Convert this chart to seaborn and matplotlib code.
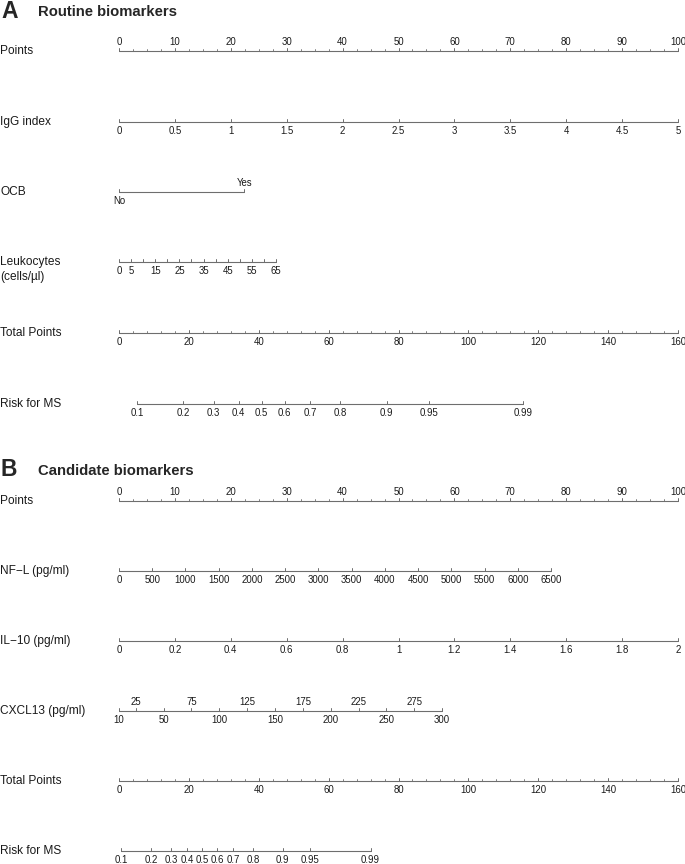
import numpy as np
import matplotlib
matplotlib.use("Agg")
import matplotlib.pyplot as plt
import seaborn as sns

sns.set_style("white")
plt.rcParams['font.family'] = ['Liberation Sans', 'DejaVu Sans']

# --- nomogram data ---
points_ticks = list(range(0, 101, 10))
points_minor = list(np.arange(0, 100.01, 2.5))

igg_ticks = [0, 0.5, 1, 1.5, 2, 2.5, 3, 3.5, 4, 4.5, 5]
igg_max_points = 100

ocb_levels = ['No', 'Yes']
ocb_points = [0, 22.4]

leuk_ticks = list(range(0, 66, 5))
leuk_labels = [0, 5, 15, 25, 35, 45, 55, 65]
leuk_max_points = 28.1

total_ticks = list(range(0, 161, 20))
total_minor = list(range(0, 161, 4))

risk_ticks = [0.1, 0.2, 0.3, 0.4, 0.5, 0.6, 0.7, 0.8, 0.9, 0.95, 0.99]
risk_a_mid = 40.85    # total points where risk = 0.5 (routine)
risk_a_slope = 16.26  # total points per logit unit
risk_b_mid = 23.75    # candidate model
risk_b_slope = 10.5

nfl_ticks = list(range(0, 6501, 500))
nfl_max_points = 77.3

il10_ticks = [0, 0.2, 0.4, 0.6, 0.8, 1, 1.2, 1.4, 1.6, 1.8, 2]
il10_max_points = 100

cxcl13_below = [10, 50, 100, 150, 200, 250, 300]
cxcl13_above = [25, 75, 125, 175, 225, 275]
cxcl13_range = [10, 300]
cxcl13_max_points = 57.8

# --- layout ---
X0, PX_PER_PT = 119, 5.59
LINE_C = '#6e6e6e'
TXT_C = '#1a1a1a'
TICK_FS = 6.9
LAB_FS = 8.6


def px(x):
    return (x - X0) / PX_PER_PT


def lin(vals, v0, v1, p1):
    return [(v - v0) / (v1 - v0) * p1 for v in vals]


def risk_pts(p, mid, slope):
    p = np.asarray(p)
    return (mid + slope * np.log(p / (1 - p))) * 100 / 160


def scale(ax, y, xs, labels, side='below', minor=None, ticklen=3):
    sns.lineplot(x=[min(xs), max(xs)], y=[y, y], ax=ax, color=LINE_C,
                 linewidth=0.8, estimator=None, sort=False)
    for xv in xs:
        ax.plot([xv, xv], [y, y - ticklen], color=LINE_C, lw=0.7)
    if minor is not None:
        for xv in minor:
            ax.plot([xv, xv], [y, y - 2], color=LINE_C, lw=0.6)
    if labels is not None:
        off = 9 if side == 'below' else -9
        for xv, lb in zip(xs, labels):
            ax.text(xv, y + off, lb, ha='center', va='center', fontsize=TICK_FS,
                    color=TXT_C)


def fmt(vals):
    return [f"{v:g}" for v in vals]


def row_label(ax, y, text):
    ax.text(px(0.5), y, text, ha='left', va='center', fontsize=LAB_FS, color=TXT_C)


fig = plt.figure(figsize=(6.85, 8.64), dpi=100)
ax = fig.add_axes([0, 0, 1, 1])
ax.set_xlim(px(0), px(685))
ax.set_ylim(864, 0)
ax.axis('off')

# ===== Panel A =====
ax.text(px(1), 12, 'A', fontsize=16.5, fontweight='bold', ha='left', va='center')
ax.text(px(38), 12, 'Routine biomarkers', fontsize=10.7, fontweight='bold',
        ha='left', va='center')
rows_a = [51, 122, 192, 262, 333, 404]

row_label(ax, rows_a[0], 'Points')
scale(ax, rows_a[0], points_ticks, fmt(points_ticks), side='above',
      minor=points_minor)

row_label(ax, rows_a[1], 'IgG index')
scale(ax, rows_a[1], lin(igg_ticks, 0, 5, igg_max_points), fmt(igg_ticks))

row_label(ax, rows_a[2], 'OCB')
scale(ax, rows_a[2], ocb_points, None)
ax.text(ocb_points[0], rows_a[2] + 9, ocb_levels[0], ha='center', va='center',
        fontsize=TICK_FS, color=TXT_C)
ax.text(ocb_points[1], rows_a[2] - 9, ocb_levels[1], ha='center', va='center',
        fontsize=TICK_FS, color=TXT_C)

row_label(ax, rows_a[3], 'Leukocytes')
ax.text(px(0.5), rows_a[3] + 15, '(cells/µl)', ha='left', va='center',
        fontsize=LAB_FS, color=TXT_C)
leuk_x = lin(leuk_ticks, 0, 65, leuk_max_points)
scale(ax, rows_a[3], leuk_x, None)
for xv, lb in zip(lin(leuk_labels, 0, 65, leuk_max_points), fmt(leuk_labels)):
    ax.text(xv, rows_a[3] + 9, lb, ha='center', va='center', fontsize=TICK_FS,
            color=TXT_C)

row_label(ax, rows_a[4], 'Total Points')
scale(ax, rows_a[4], [t * 100 / 160 for t in total_ticks], fmt(total_ticks),
      minor=[t * 100 / 160 for t in total_minor])

row_label(ax, rows_a[5], 'Risk for MS')
scale(ax, rows_a[5], list(risk_pts(risk_ticks, risk_a_mid, risk_a_slope)),
      fmt(risk_ticks))

# ===== Panel B =====
ax.text(px(1), 470, 'B', fontsize=16.5, fontweight='bold', ha='left', va='center')
ax.text(px(38), 471, 'Candidate biomarkers', fontsize=10.7, fontweight='bold',
        ha='left', va='center')
rows_b = [501, 571, 641, 711, 781, 851]

row_label(ax, rows_b[0], 'Points')
scale(ax, rows_b[0], points_ticks, fmt(points_ticks), side='above',
      minor=points_minor)

row_label(ax, rows_b[1], 'NF\u2212L (pg/ml)')
scale(ax, rows_b[1], lin(nfl_ticks, 0, 6500, nfl_max_points), fmt(nfl_ticks))

row_label(ax, rows_b[2], 'IL\u221210 (pg/ml)')
scale(ax, rows_b[2], lin(il10_ticks, 0, 2, il10_max_points), fmt(il10_ticks))

row_label(ax, rows_b[3], 'CXCL13 (pg/ml)')
c0, c1 = cxcl13_range
scale(ax, rows_b[3], lin(cxcl13_below, c0, c1, cxcl13_max_points),
      fmt(cxcl13_below))
for xv, lb in zip(lin(cxcl13_above, c0, c1, cxcl13_max_points), fmt(cxcl13_above)):
    ax.plot([xv, xv], [rows_b[3], rows_b[3] - 3], color=LINE_C, lw=0.7)
    ax.text(xv, rows_b[3] - 9, lb, ha='center', va='center', fontsize=TICK_FS,
            color=TXT_C)

row_label(ax, rows_b[4], 'Total Points')
scale(ax, rows_b[4], [t * 100 / 160 for t in total_ticks], fmt(total_ticks),
      minor=[t * 100 / 160 for t in total_minor])

row_label(ax, rows_b[5], 'Risk for MS')
scale(ax, rows_b[5], list(risk_pts(risk_ticks, risk_b_mid, risk_b_slope)),
      fmt(risk_ticks))

fig.savefig('out.png', dpi=100)
